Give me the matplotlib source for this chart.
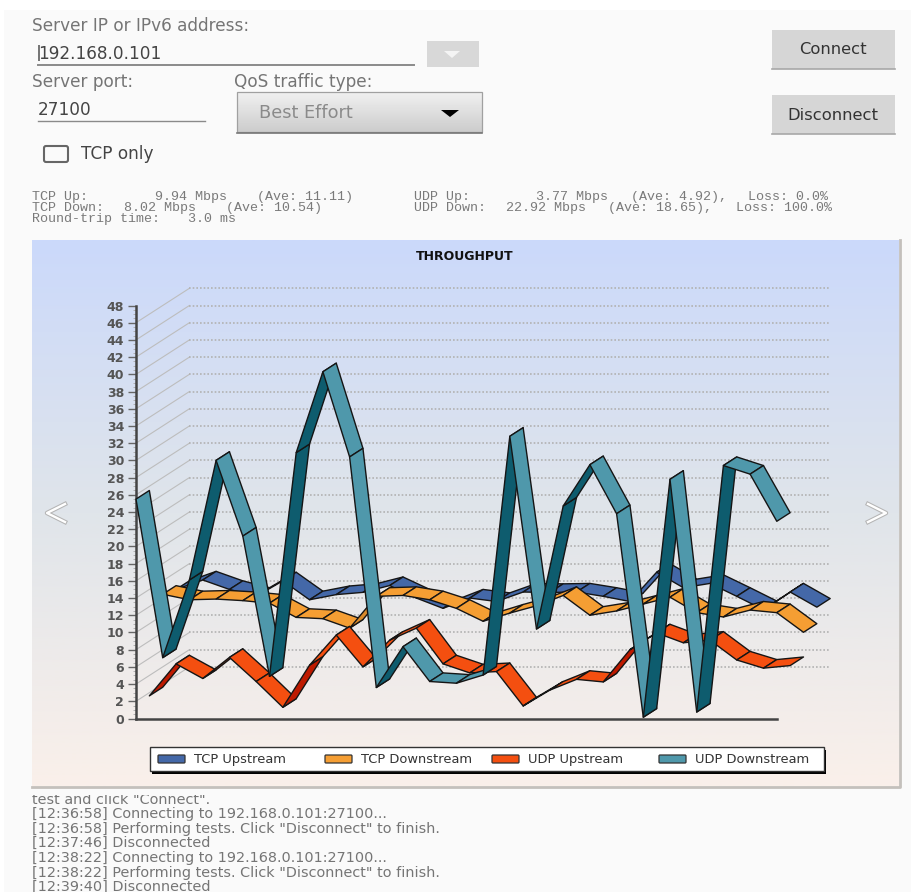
import numpy as np
from matplotlib import pyplot as plt
from matplotlib.patches import Polygon, Rectangle, FancyBboxPatch

# throughput samples, Mbps
tcp_up = [12.0, 13.1, 12.0, 11.2, 13.0, 10.8, 11.4, 11.66, 12.45, 11.0, 9.8, 11.0, 10.6,
          11.7, 11.65, 11.7, 11.2, 10.6, 14.0, 12.2, 12.7, 11.2, 9.65, 11.7, 9.94]
tcp_down = [12.44, 11.8, 11.88, 11.7, 11.4, 9.75, 9.6, 8.5, 12.2, 12.3, 11.8, 10.8, 9.3,
            10.25, 11.1, 12.3, 10.0, 10.5, 11.3, 12.1, 10.3, 9.8, 10.6, 10.3, 8.02]
udp_up = [1.63, 5.35, 3.65, 6.1, 3.3, 0.3, 5.2, 8.7, 5.0, 8.1, 9.5, 5.35, 4.3,
          4.45, 0.46, 2.3, 3.55, 3.25, 7.0, 8.95, 7.8, 8.1, 5.8, 4.85, 5.15]
udp_down = [25.5, 7.07, 16.1, 30.0, 21.2, 4.9, 30.9, 40.3, 30.4, 3.6, 8.35, 4.3, 4.1,
            5.05, 32.8, 10.4, 24.7, 29.5, 23.8, 0.15, 27.8, 0.75, 29.4, 28.4, 22.92]

series_names = ['TCP Upstream', 'TCP Downstream', 'UDP Upstream', 'UDP Downstream']
light_colors = ['#4468A8', '#F59E33', '#F44F10', '#4F98AB']
dark_colors = ['#37578F', '#D98A2B', '#BE1A00', '#0E5C6E']

log_lines = ['test and click "Connect".',
             '[12:36:58] Connecting to 192.168.0.101:27100...',
             '[12:36:58] Performing tests. Click "Disconnect" to finish.',
             '[12:37:46] Disconnected',
             '[12:38:22] Connecting to 192.168.0.101:27100...',
             '[12:38:22] Performing tests. Click "Disconnect" to finish.',
             '[12:39:40] Disconnected']

W, H = 911, 892
X0, Y0 = 136.0, 718.5    # pixel of the chart origin
PX_X, PX_Y = 26.7, 8.604 # pixels per sample / per Mbps
DX, DY = 0.5, 1.0        # depth of one ribbon
STEEP = 3.6              # rise per sample where the underside shows

plt.rcParams['font.family'] = ['DejaVu Sans']

fig = plt.figure(figsize=(W / 100, H / 100), dpi=100, facecolor='white')

# the app screen, in pixels
ui = fig.add_axes([0, 0, 1, 1], zorder=1)
ui.set_xlim(0, W)
ui.set_ylim(H, 0)
ui.axis('off')
ui.add_patch(Rectangle((4, 10), W - 4, H - 10, fc='#FAFAFA', ec='none'))


def label(x, y, s, size=12.2, color='#757575', **kw):
    kw.setdefault('va', 'center')
    return ui.text(x, y, s, fontsize=size, color=color, **kw)


def button(x0, x1, y0, y1, s):
    ui.add_patch(Rectangle((x0, y0), x1 - x0, y1 - y0, fc='#D6D6D6', ec='none'))
    ui.plot([x0, x1], [y1, y1], color='#A8A8A8', lw=1.2)
    label((x0 + x1) / 2, (y0 + y1) / 2 + 0.5, s, size=11.8, color='#333333', ha='center')


label(32, 26, 'Server IP or IPv6 address:')
label(38, 54, '192.168.0.101', color='#444444')
ui.add_patch(Rectangle((37.5, 45), 2.5, 16, fc='#777777', ec='none'))
ui.plot([38, 414], [65, 65], color='#8A8A8A', lw=1.4)
ui.add_patch(Rectangle((427, 41), 52, 26, fc='#D8D8D8', ec='none'))
ui.add_patch(Polygon([[444, 51], [460, 51], [452, 58]], fc='#F4F4F4', ec='none'))

button(771.5, 895, 30, 69, 'Connect')
button(771.5, 895, 95, 134, 'Disconnect')

label(32, 82, 'Server port:')
label(234, 82, 'QoS traffic type:')
label(38, 110, '27100', color='#444444')
ui.plot([38, 205], [121, 121], color='#8A8A8A', lw=1.0)

# spinner with a soft vertical shade
ui.imshow(np.linspace(0.94, 0.80, 40).reshape(-1, 1), extent=(237, 482, 132, 92), cmap='gray',
          vmin=0, vmax=1, aspect='auto', zorder=1)
ui.set_xlim(0, W)
ui.set_ylim(H, 0)
ui.add_patch(Rectangle((237, 92), 245, 40, fc='none', ec='#A0A0A0', lw=0.9, zorder=2))
ui.plot([237, 482], [132.5, 132.5], color='#777777', lw=1.2, zorder=2)
label(259, 113, 'Best Effort', size=12.8, color='#8A8A8A', zorder=3)
ui.add_patch(Polygon([[441, 110], [459, 110], [450, 117]], fc='black', ec='none', zorder=3))

ui.add_patch(FancyBboxPatch((44, 146), 24, 16, boxstyle='round,pad=0,rounding_size=2',
                            fc='none', ec='#666666', lw=1.5))
label(81, 154, 'TCP only', color='#444444')

# status block, fields set at their own columns
mono = ['Liberation Mono', 'DejaVu Sans Mono']
stats = [(32, 197, 'TCP Up:'), (155, 197, '9.94 Mbps'), (257, 197, '(Ave: 11.11)'),
         (32, 208, 'TCP Down:'), (124, 208, '8.02 Mbps'), (225.6, 208, '(Ave: 10.54)'),
         (32, 219, 'Round-trip time:'), (188, 219, '3.0 ms'),
         (414, 197, 'UDP Up:'), (536, 197, '3.77 Mbps'), (631, 197, '(Ave: 4.92),'), (747.7, 197, 'Loss: 0.0%'),
         (414, 208, 'UDP Down:'), (506, 208, '22.92 Mbps'), (607.5, 208, '(Ave: 18.65),'), (735.5, 208, 'Loss: 100.0%')]
for x, y, s in stats:
    label(x, y, s, size=9.6, color='#7A7A7A', family=mono)

# message log, cut off by its scroll area
log_clip = Rectangle((0, 795), W, H - 795, transform=ui.transData)
for y, s in zip([799.5, 814, 828.6, 843, 858, 873, 887], log_lines):
    t = label(32, y, s, size=10.4)
    t.set_clip_path(log_clip)
    t.set_clip_on(True)

# chart panel
px0, px1, py0, py1 = 32, 899, 240, 786
ax = fig.add_axes([px0 / W, 1 - py1 / H, (px1 - px0) / W, (py1 - py0) / H], zorder=2)
xlim = ((px0 - X0) / PX_X, (px1 - X0) / PX_X)
ylim = ((Y0 - py1) / PX_Y, (Y0 - py0) / PX_Y)
stops = [0, 0.5, 1]
stop_colors = np.array([[0xCB, 0xD9, 0xFB], [0xE0, 0xE5, 0xEA], [0xFA, 0xF0, 0xEA]]) / 255
frac = np.linspace(0, 1, 256)
shade = np.stack([np.interp(frac, stops, stop_colors[:, c]) for c in range(3)], axis=1)
ax.imshow(shade.reshape(-1, 1, 3), extent=(xlim[0], xlim[1], ylim[0], ylim[1]),
          aspect='auto', zorder=0)
ax.set_xlim(xlim)
ax.set_ylim(ylim)

n = len(udp_down) - 1
depth_x, depth_y = 4 * DX, 4 * DY
for v in range(2, 48, 2):
    ax.plot([0, depth_x], [v, v + depth_y], color='#BDBDBD', lw=0.8, zorder=1)
    ax.plot([depth_x, n + depth_x], [v + depth_y, v + depth_y], color='#B2B2B2', lw=1.2,
            ls=(0, (1, 1.2)), zorder=1)

for name in ['top', 'right']:
    ax.spines[name].set_visible(False)
ax.spines['left'].set_position(('data', 0))
ax.spines['bottom'].set_position(('data', 0))
ax.spines['left'].set_bounds(0, 48)
ax.spines['bottom'].set_bounds(0, n)
for name in ['left', 'bottom']:
    ax.spines[name].set_linewidth(1.8)
    ax.spines[name].set_color('#444444')
    ax.spines[name].set_zorder(2)
ax.set_xticks([])
ax.set_yticks(np.arange(0, 49, 2))
ax.set_yticks(np.arange(0, 48.5, 0.5), minor=True)
ax.tick_params(axis='y', which='major', length=5.5, width=1.0, color='#666666', pad=3,
               labelsize=9, labelcolor='#555555')
ax.tick_params(axis='y', which='minor', length=2.5, width=0.6, color='#A8A8A8')
for t in ax.get_yticklabels():
    t.set_fontweight('bold')


def draw_ribbon(vals, depth, light, dark, z):
    xs = np.arange(len(vals)) + depth * DX
    ys = np.array(vals) + depth * DY
    for i in range(len(vals) - 1):
        pts = [[xs[i], ys[i]], [xs[i + 1], ys[i + 1]],
               [xs[i + 1] + DX, ys[i + 1] + DY], [xs[i] + DX, ys[i] + DY]]
        color = dark if vals[i + 1] - vals[i] > STEEP else light
        ax.add_patch(Polygon(pts, fc=color, ec='#151515', lw=1.0, joinstyle='round', zorder=z))


# back to front
for k, vals in enumerate([tcp_up, tcp_down, udp_up, udp_down]):
    draw_ribbon(vals, 3 - k, light_colors[k], dark_colors[k], 3 + k)

ax.set_title('THROUGHPUT', fontweight='bold', fontsize=9, color='#111111', pad=0,
             x=(465 - px0) / (px1 - px0), y=(py1 - 257) / (py1 - py0), va='center')

# panel edge
over = fig.add_axes([0, 0, 1, 1], zorder=3)
over.set_xlim(0, W)
over.set_ylim(H, 0)
over.axis('off')
over.plot([px1 + 0.5, px1 + 0.5, px0], [py0, py1 + 0.5, py1 + 0.5], color='#C4C0BC', lw=2)

# page arrows
for pts in ([[65, 504], [47, 513], [65, 522]], [[868, 504], [886, 513], [868, 522]]):
    pts = np.array(pts)
    over.plot(pts[:, 0], pts[:, 1], color='#B4B4B4', lw=3.2)
    over.plot(pts[:, 0], pts[:, 1], color='white', lw=1.7)

# legend
over.add_patch(Rectangle((152, 750), 674, 24, fc='black', ec='none'))
over.add_patch(Rectangle((149.5, 747), 674, 24, fc='white', ec='#333333', lw=1.0))
for x, name, c in zip([158, 325, 492, 659], series_names, light_colors):
    over.add_patch(FancyBboxPatch((x, 755), 27, 8, boxstyle='round,pad=0,rounding_size=1',
                                  fc=c, ec='#333333', lw=0.9))
    over.text(x + 36, 759.5, name, fontsize=9.4, color='#333333', va='center')

fig.savefig('out.png', dpi=100)
